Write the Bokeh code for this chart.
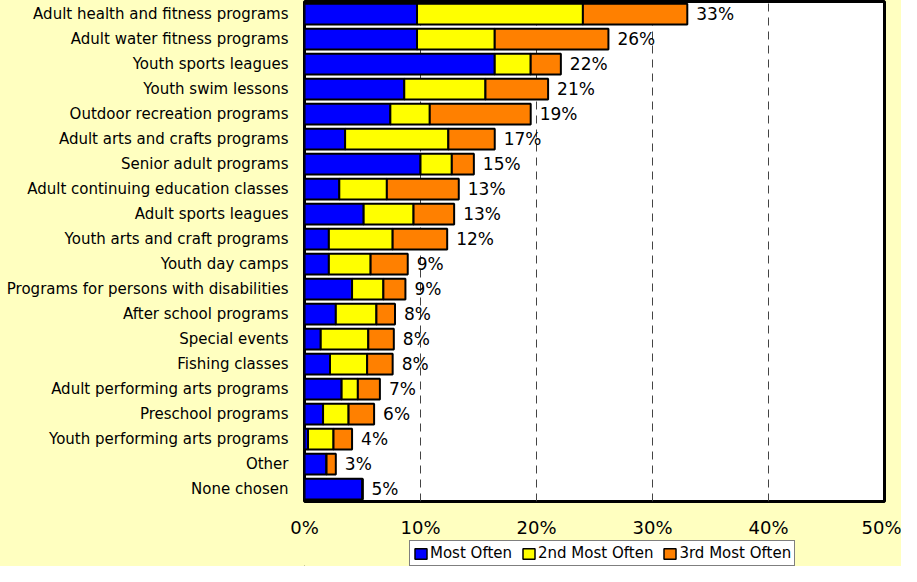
from bokeh.plotting import figure
from bokeh.layouts import column
from bokeh.models import ColumnDataSource, Legend, LegendItem, PrintfTickFormatter, FixedTicker
from bokeh.core.properties import value
from bokeh.embed import file_html
from bokeh.resources import INLINE

categories = [
    "Adult health and fitness programs", "Adult water fitness programs", "Youth sports leagues",
    "Youth swim lessons", "Outdoor recreation programs", "Adult arts and crafts programs",
    "Senior adult programs", "Adult continuing education classes", "Adult sports leagues",
    "Youth arts and craft programs", "Youth day camps", "Programs for persons with disabilities",
    "After school programs", "Special events", "Fishing classes", "Adult performing arts programs",
    "Preschool programs", "Youth performing arts programs", "Other", "None chosen",
]
most_often = [9.7, 9.7, 16.4, 8.6, 7.4, 3.5, 10.0, 3.0, 5.1, 2.1, 2.1, 4.1, 2.7, 1.4, 2.2, 3.2, 1.6, 0.3, 1.9, 5.0]
second_most = [14.3, 6.7, 3.1, 7.0, 3.4, 8.9, 2.7, 4.1, 4.3, 5.5, 3.6, 2.7, 3.5, 4.1, 3.2, 1.4, 2.2, 2.2, 0.0, 0.0]
third_most = [9.0, 9.8, 2.6, 5.4, 8.7, 4.0, 1.9, 6.2, 3.5, 4.7, 3.2, 1.9, 1.6, 2.2, 2.2, 1.9, 2.2, 1.6, 0.8, 0.0]
total_labels = [33, 26, 22, 21, 19, 17, 15, 13, 13, 12, 9, 9, 8, 8, 8, 7, 6, 4, 3, 5]
series_names = ["Most Often", "2nd Most Often", "3rd Most Often"]
x_ticks = [0, 10, 20, 30, 40, 50]

BG = "#FFFFC0"
FONT = "DejaVu Sans"
COLORS = ["#0000FF", "#FFFF00", "#FF8000"]

totals = [a + b + c for a, b, c in zip(most_often, second_most, third_most)]
src = ColumnDataSource(dict(
    cat=categories, m1=most_often, m2=second_most, m3=third_most,
    tot=totals, lab=[f"{v}%" for v in total_labels],
))

p = figure(width=901, height=540, y_range=list(reversed(categories)), x_range=(0, 50),
           output_backend="svg", toolbar_location=None,
           min_border_left=304, min_border_right=17, min_border_top=1, min_border_bottom=34)
p.background_fill_color = "white"
p.border_fill_color = BG
p.outline_line_color = "black"
p.outline_line_width = 3

rs = p.hbar_stack(["m1", "m2", "m3"], y="cat", height=0.83, source=src,
                  color=COLORS, line_color="black", line_width=2)

p.text(x="tot", y="cat", text="lab", source=src, x_offset=9, text_baseline="middle",
       text_align="left", text_font=value(FONT), text_font_size="17px", text_color="black")

p.xgrid.ticker = FixedTicker(ticks=[10, 20, 30, 40])
p.xgrid.grid_line_color = "#444444"
p.xgrid.grid_line_dash = "8 6"
p.xgrid.grid_line_width = 1
p.ygrid.grid_line_color = None

p.xaxis.ticker = FixedTicker(ticks=x_ticks)
p.xaxis.formatter = PrintfTickFormatter(format="%d%%")
for ax in (p.xaxis[0], p.yaxis[0]):
    ax.axis_line_color = None
    ax.major_tick_line_color = None
    ax.minor_tick_line_color = None
    ax.major_label_text_font = FONT
    ax.major_label_text_color = "black"
p.xaxis.major_label_text_font_size = "18px"
p.xaxis.major_label_standoff = 9
p.yaxis.major_label_text_font_size = "15px"
p.yaxis.major_label_standoff = 10

# legend strip below the chart (its frame is aligned with the chart frame)
pl = figure(width=901, height=26, x_range=(0, 1), y_range=(0, 1),
            output_backend="svg", toolbar_location=None,
            x_axis_location=None, y_axis_location=None,
            min_border_left=0, min_border_right=0, min_border_top=0, min_border_bottom=0)
pl.background_fill_color = BG
pl.border_fill_color = BG
pl.outline_line_color = None
pl.grid.grid_line_color = None
# legend swatches: off-screen placeholder glyphs (outside the 0..1 ranges)
dummies = [pl.hbar(y=[-10], left=[-10], right=[-9], height=0.5, fill_color=c,
                   line_color="black", line_width=1.5) for c in COLORS]
legend = Legend(items=[LegendItem(label=n, renderers=[r]) for n, r in zip(series_names, dummies)],
                orientation="horizontal", location=(105, 0),
                glyph_width=15, glyph_height=13, label_standoff=2, spacing=9,
                padding=3, margin=0, label_text_font=FONT, label_text_font_size="15px",
                label_text_color="black",
                label_height=14, border_line_color="black", border_line_width=1,
                background_fill_color="white", background_fill_alpha=1.0)
pl.add_layout(legend, "center")

layout = column(p, pl, spacing=0)
layout.styles = {"background-color": BG}

html = file_html(layout, INLINE)
html = html.replace("<body>", f'<body style="background-color:{BG};">', 1)
open("out.html", "w").write(html)
